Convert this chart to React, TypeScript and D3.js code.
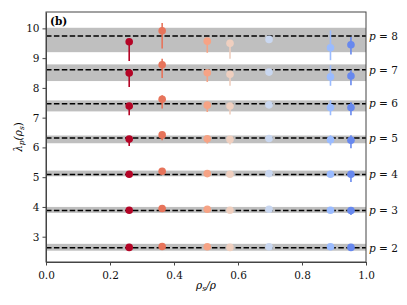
import { useEffect, useRef } from 'react';
import * as d3 from 'd3';

// x positions of the seven rho_s/rho samples and their colours
const rhoRatio = [0.26, 0.363, 0.504, 0.575, 0.697, 0.889, 0.953];
const colors = ['#b40426', '#e7745b', '#f6a385', '#efcfbf', '#c9d7f0', '#9abbff', '#6788ee'];

// p levels, reference line and grey band for each
const pLevels = [2, 3, 4, 5, 6, 7, 8];
const refLine = [2.63, 3.88, 5.09, 6.32, 7.47, 8.61, 9.74];
const bandLo = [2.53, 3.80, 5.03, 6.14, 7.21, 8.23, 9.20];
const bandHi = [2.76, 4.00, 5.22, 6.40, 7.58, 8.79, 10.02];

// measured values per p level (rows) and sample (columns)
const values = [
  [2.64, 2.67, 2.66, 2.64, 2.66, 2.66, 2.64],
  [3.89, 3.95, 3.92, 3.89, 3.92, 3.89, 3.88],
  [5.10, 5.20, 5.12, 5.10, 5.12, 5.10, 5.10],
  [6.28, 6.42, 6.29, 6.27, 6.30, 6.26, 6.24],
  [7.39, 7.62, 7.42, 7.39, 7.43, 7.34, 7.34],
  [8.50, 8.78, 8.51, 8.46, 8.53, 8.37, 8.40],
  [9.55, 9.92, 9.57, 9.50, 9.63, 9.35, 9.45],
];
const errLo = [
  [2.62, 2.65, 2.64, 2.62, 2.64, 2.63, 2.60],
  [3.86, 3.92, 3.89, 3.87, 3.90, 3.85, 3.73],
  [5.05, 5.15, 5.08, 5.06, 5.09, 5.03, 4.84],
  [6.05, 6.24, 6.13, 6.10, 6.27, 6.07, 5.97],
  [7.08, 7.31, 7.19, 7.11, 7.40, 7.08, 7.08],
  [8.03, 8.33, 8.20, 8.07, 8.50, 8.07, 8.09],
  [8.90, 9.32, 9.18, 8.98, 9.60, 8.93, 9.12],
];
const errHi = [
  [2.66, 2.69, 2.68, 2.66, 2.68, 2.69, 2.68],
  [3.92, 3.98, 3.94, 3.91, 3.94, 3.93, 3.93],
  [5.14, 5.24, 5.15, 5.13, 5.15, 5.15, 5.18],
  [6.32, 6.50, 6.33, 6.30, 6.33, 6.41, 6.41],
  [7.45, 7.75, 7.46, 7.42, 7.46, 7.58, 7.52],
  [8.60, 8.98, 8.55, 8.50, 8.56, 8.76, 8.59],
  [9.62, 10.18, 9.62, 9.55, 9.66, 9.93, 9.71],
];

const xTicks = [0, 0.2, 0.4, 0.6, 0.8, 1.0];
const yTicks = [3, 4, 5, 6, 7, 8, 9, 10];

export default function App() {
  const ref = useRef<SVGSVGElement>(null);

  useEffect(() => {
    const svg = d3.select(ref.current);
    svg.selectAll('*').remove();

    const margin = { left: 46, right: 41, top: 12, bottom: 43 };
    const W = 407, H = 305;
    const x = d3.scaleLinear().domain([0, 1]).range([margin.left, W - margin.right]);
    const y = d3.scaleLinear().domain([2.15, 10.55]).range([H - margin.bottom, margin.top]);
    const font = 'DejaVu Serif, serif';

    const g = svg.append('g');

    // grey bands
    g.selectAll('rect.band')
      .data(pLevels)
      .enter().append('rect')
      .attr('x', x(0))
      .attr('width', x(1) - x(0))
      .attr('y', (d, i) => y(bandHi[i]))
      .attr('height', (d, i) => y(bandLo[i]) - y(bandHi[i]))
      .attr('fill', '#bfbfbf');

    // dashed reference lines
    g.selectAll('line.ref')
      .data(pLevels)
      .enter().append('line')
      .attr('x1', x(0))
      .attr('x2', x(1))
      .attr('y1', (d, i) => y(refLine[i]))
      .attr('y2', (d, i) => y(refLine[i]))
      .attr('stroke', '#000')
      .attr('stroke-width', 1.5)
      .attr('stroke-dasharray', '5.5,2.4');

    // points with error bars
    values.forEach((row, i) => {
      row.forEach((v, j) => {
        g.append('line')
          .attr('x1', x(rhoRatio[j]))
          .attr('x2', x(rhoRatio[j]))
          .attr('y1', y(errLo[i][j]))
          .attr('y2', y(errHi[i][j]))
          .attr('stroke', colors[j])
          .attr('stroke-width', 1.6);
        g.append('circle')
          .attr('cx', x(rhoRatio[j]))
          .attr('cy', y(v))
          .attr('r', 3.8)
          .attr('fill', colors[j]);
      });
    });

    // frame
    g.append('rect')
      .attr('x', x(0))
      .attr('y', y(10.55))
      .attr('width', x(1) - x(0))
      .attr('height', y(2.15) - y(10.55))
      .attr('fill', 'none')
      .attr('stroke', '#444')
      .attr('stroke-width', 1);

    // axes
    const xAxis = g.append('g')
      .attr('transform', `translate(0,${y(2.15)})`)
      .call(d3.axisBottom(x).tickValues(xTicks).tickFormat(d3.format('.1f')).tickSize(3.5).tickSizeOuter(0));
    const yAxis = g.append('g')
      .attr('transform', `translate(${x(0)},0)`)
      .call(d3.axisLeft(y).tickValues(yTicks).tickFormat(d3.format('d')).tickSize(3.5).tickSizeOuter(0));
    [xAxis, yAxis].forEach(a => {
      a.select('.domain').attr('stroke', '#444');
      a.selectAll('.tick line').attr('stroke', '#444');
      a.selectAll('.tick text').attr('font-family', font).attr('font-size', 10.5).attr('fill', '#111');
    });
    xAxis.selectAll('.tick text').attr('dy', '1.0em');

    // p labels on the right
    const pl = g.selectAll('text.pl')
      .data(pLevels)
      .enter().append('text')
      .attr('x', x(1) + 3)
      .attr('y', (d, i) => y(refLine[i]) + 3.8)
      .attr('font-family', font)
      .attr('font-size', 10.5)
      .attr('fill', '#111');
    pl.append('tspan').attr('font-style', 'italic').text('p');
    pl.append('tspan').text(d => ' = ' + d);

    // panel tag
    g.append('text')
      .attr('x', x(0) + 4)
      .attr('y', y(10.55) + 13)
      .attr('font-family', font)
      .attr('font-weight', 'bold')
      .attr('font-size', 10.5)
      .text('(b)');

    // x label
    const xl = g.append('text')
      .attr('x', (x(0) + x(1)) / 2)
      .attr('y', 289)
      .attr('text-anchor', 'middle')
      .attr('font-family', font)
      .attr('font-size', 10.5)
      .attr('font-style', 'italic');
    xl.append('tspan').text('ρ');
    xl.append('tspan').attr('font-size', 7.5).attr('dy', 2).text('s');
    xl.append('tspan').attr('dy', -2).text('/ρ');

    // y label
    const yl = g.append('text')
      .attr('transform', `translate(22,${(y(2.15) + y(10.55)) / 2}) rotate(-90)`)
      .attr('text-anchor', 'middle')
      .attr('font-family', font)
      .attr('font-size', 10.5)
      .attr('font-style', 'italic');
    yl.append('tspan').text('λ');
    yl.append('tspan').attr('font-size', 7.5).attr('dy', 2).text('p');
    yl.append('tspan').attr('dy', -2).text('(ρ');
    yl.append('tspan').attr('font-size', 7.5).attr('dy', 2).text('s');
    yl.append('tspan').attr('dy', -2).attr('font-style', 'normal').text(')');
  }, []);

  return (
    <svg
      ref={ref}
      width={407}
      height={305}
      style={{ position: 'absolute', left: 0, top: 0, background: '#fff' }}
    />
  );
}
